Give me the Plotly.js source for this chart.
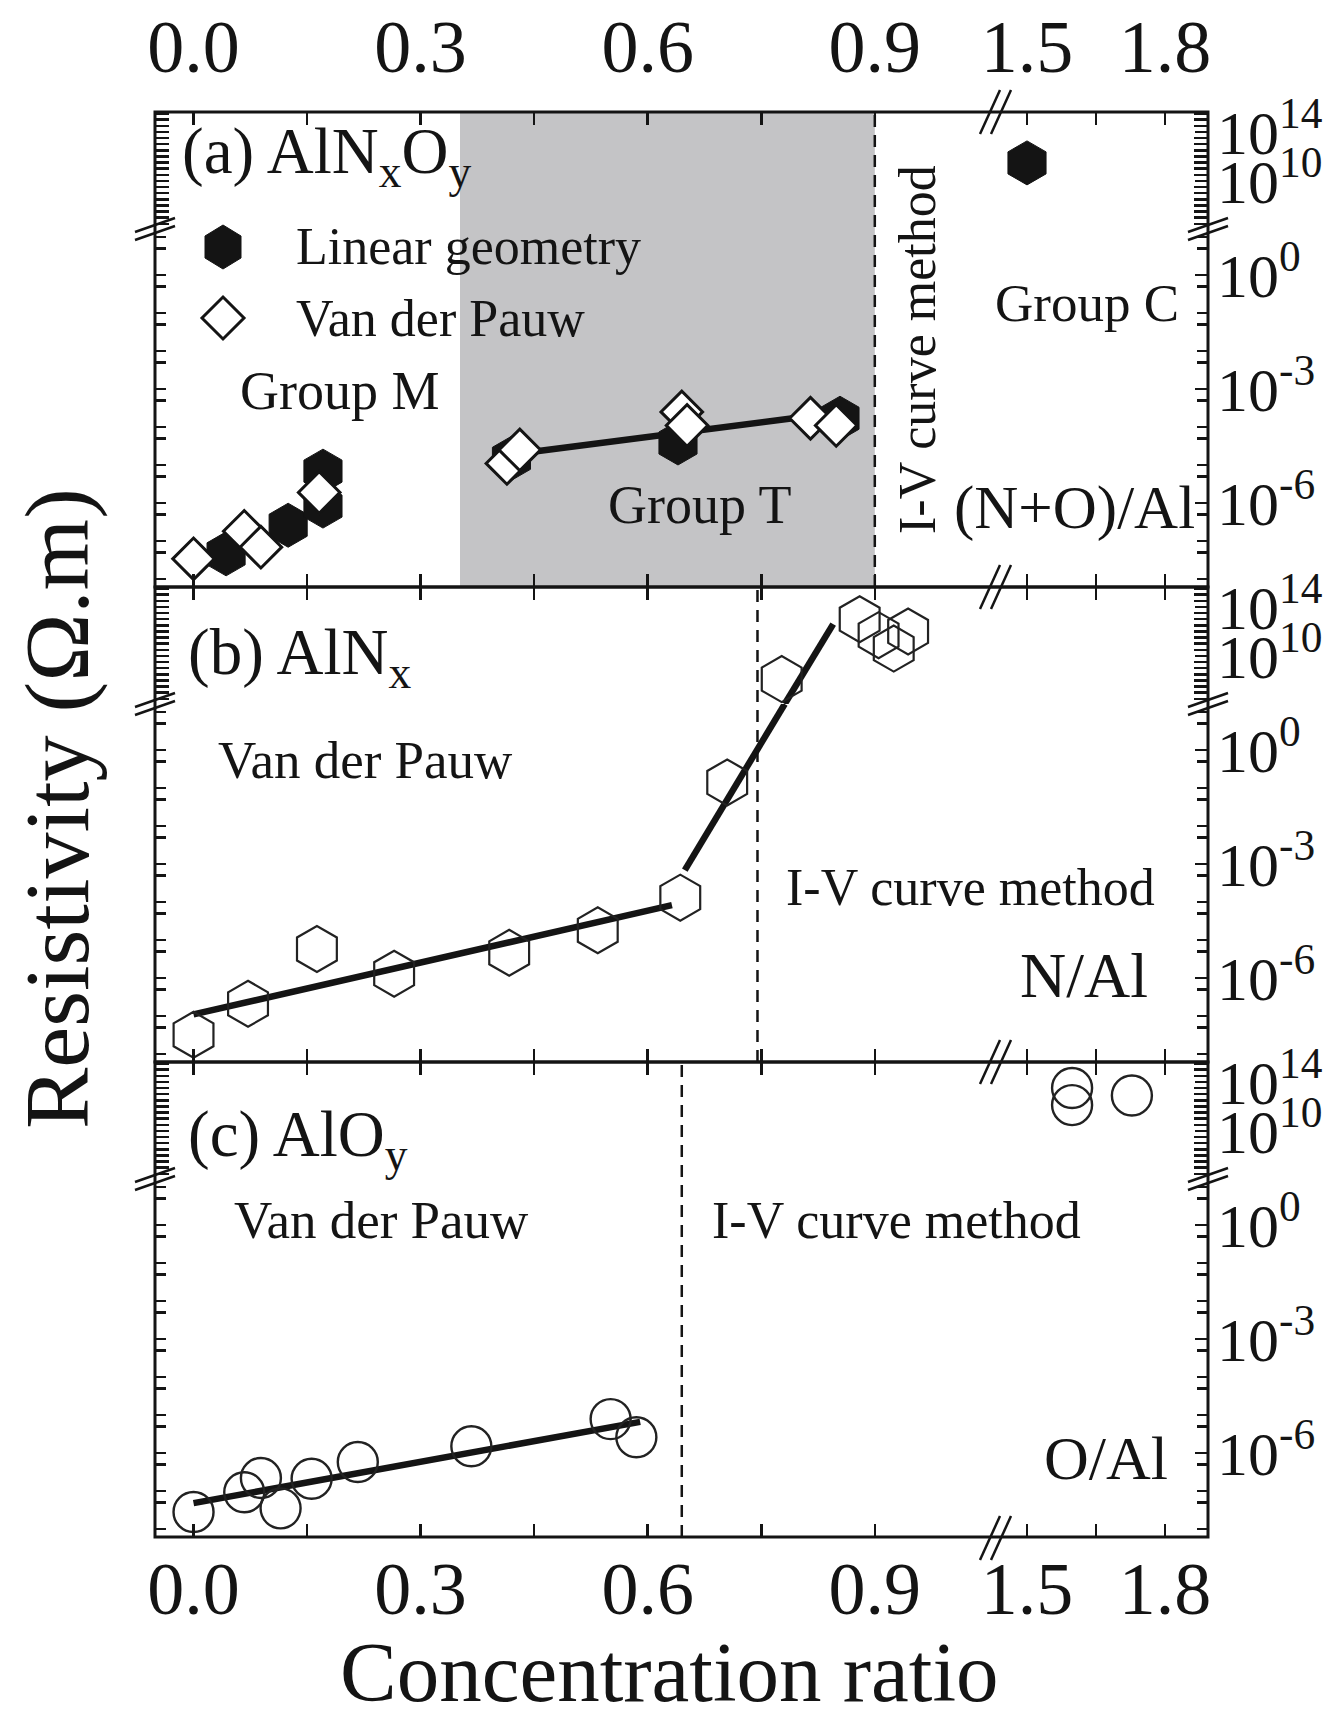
<!DOCTYPE html>
<html>
<head>
<meta charset="utf-8">
<script src="https://cdn.plot.ly/plotly-3.0.1.min.js"></script>
<style>
  html, body { margin: 0; padding: 0; background: #fff; }
  #chart { width: 1340px; height: 1726px; }
</style>
</head>
<body>
<div id="chart"></div>
<script>
// ---------------- data ----------------
// (a) AlNxOy, (N+O)/Al ratio
const aLinearX = [0.043, 0.125, 0.171, 0.171, 0.42, 0.64, 0.854];
const aLinearY = [4.6e-8, 2.6e-7, 6.9e-6, 8.3e-7, 1.5e-5, 3.8e-5, 1.7e-4];
const aPauwX = [0.0, 0.067, 0.089, 0.166, 0.414, 0.431, 0.645, 0.652, 0.815, 0.849];
const aPauwY = [3.4e-8, 1.8e-7, 6.9e-8, 1.9e-6, 1.1e-5, 2.5e-5, 2.5e-4, 1.1e-4, 1.7e-4, 1.1e-4];
const aFitX = [0.43, 0.82];
const aFitY = [2.0e-5, 2.0e-4];
const aHighX = [1.5];
const aHighY = [3.0e11];

// (b) AlNx, N/Al ratio
const bLowX = [0.0, 0.072, 0.163, 0.265, 0.417, 0.534, 0.643, 0.705];
const bLowY = [3.2e-8, 2.1e-7, 5.8e-6, 1.3e-6, 4.6e-6, 1.8e-5, 1.3e-4, 0.14];
const bHighX = [0.777, 0.88, 0.905, 0.925, 0.944];
const bHighY = [1.3e8, 1.0e13, 5.0e11, 4.0e10, 1.0e12];
const bFitX = [0.0, 0.632];
const bFitY = [1.1e-7, 8.3e-5];
const bSteepLowX = [0.649, 0.781];
const bSteepLowY = [6.9e-4, 16.2];
const bSteepHighX = [0.781, 0.845];
const bSteepHighY = [1.2e6, 4.0e12];

// (c) AlOy, O/Al ratio
const cLowX = [0.0, 0.067, 0.089, 0.115, 0.156, 0.217, 0.367, 0.551, 0.585];
const cLowY = [2.8e-8, 9.3e-8, 2.2e-7, 3.5e-8, 2.1e-7, 5.8e-7, 1.5e-6, 7.8e-6, 2.6e-6];
const cHighX = [1.598, 1.598, 1.728];
const cHighY = [3.2e13, 1.3e12, 7.9e12];
const cFitX = [0.0, 0.59];
const cFitY = [4.8e-8, 6.6e-6];

// measurement-method regions
const groupTSpan = [0.352, 0.9];
const methodSplit = [0.9, 0.745, 0.645];   // per panel a, b, c

// tick values / labels
const xTicksLeft = [0, 0.3, 0.6, 0.9];
const xTextLeft = ['0.0', '0.3', '0.6', '0.9'];
const xMinorLeft = [0.15, 0.45, 0.75];
const xTicksRight = [1.5, 1.8];
const xTextRight = ['1.5', '1.8'];
const xMinorRight = [1.65];
const yLowTicks = [1e-6, 1e-3, 1];
const yLowText = ['10<sup>-6</sup>', '10<sup>-3</sup>', '10<sup>0</sup>'];
const yHighTicks = [1e10, 1e14];
const yHighText = ['10<sup>10</sup>', '10<sup>14</sup>'];

// ---------------- geometry ----------------
const W = 1340, H = 1726;
const frameL = 155, frameR = 1208, xBreak = 996;
const panelTop = [112, 587, 1062];
const panelH = 475, breakOff = 117;
const xRangeLeft = [-0.0509, 1.0601];
const xRangeRight = [1.4326, 1.8935];
const yRangeLow = [-8.21, 1.21];
const yRangeHigh = [6.08, 15.63];
const INK = '#141414';
const SERIF = 'Liberation Serif, Times New Roman, serif';

const pxX = v => v / W;
const pxY = v => 1 - v / H;

// unlabelled tick positions on the log scales
const yLowMinor = [];
for (let e = -8; e <= 1; e++) {
  if (e !== -6 && e !== -3 && e !== 0) yLowMinor.push(Math.pow(10, e));
  yLowMinor.push(5 * Math.pow(10, e - 1));
}
const yHighMinor = [];
for (let k = 13; k <= 31; k++) {
  const e = k / 2;
  if (e !== 10 && e !== 14) yHighMinor.push(Math.pow(10, e));
}

const layout = {
  width: W, height: H,
  margin: { l: 0, r: 0, t: 0, b: 0 },
  paper_bgcolor: '#ffffff',
  plot_bgcolor: 'rgba(0,0,0,0)',
  showlegend: false,
  font: { family: SERIF, color: INK },
  shapes: [],
  annotations: []
};

// four sub-panels per panel: lower-left, lower-right, upper-left, upper-right.
// Axes that carry labels get major (labelled) + minor ticks; the others get
// all their tick marks as minor ticks only.
function axId(n) { return n === 1 ? '' : String(n); }
for (let p = 0; p < 3; p++) {
  const top = panelTop[p];
  const lowDom = [pxY(top + panelH), pxY(top + breakOff)];
  const highDom = [pxY(top + breakOff), pxY(top)];
  for (let k = 0; k < 4; k++) {
    const n = 4 * p + k + 1;
    const right = (k % 2) === 1;
    const upper = k >= 2;
    const xlab = (p === 0 && upper) || (p === 2 && !upper);
    const xMaj = right ? xTicksRight : xTicksLeft;
    const xMin = right ? xMinorRight : xMinorLeft;
    layout['xaxis' + axId(n)] = {
      visible: true,
      domain: right ? [pxX(xBreak), pxX(frameR)] : [pxX(frameL), pxX(xBreak)],
      range: right ? xRangeRight : xRangeLeft,
      anchor: 'y' + axId(n),
      side: upper ? 'top' : 'bottom',
      showgrid: false, zeroline: false, showline: false,
      ticks: 'inside', ticklen: 13, tickwidth: 2.5, tickcolor: INK,
      tickmode: 'array',
      tickvals: xlab ? xMaj : [],
      ticktext: xlab ? (right ? xTextRight : xTextLeft) : [],
      minor: { tickmode: 'array', tickvals: xlab ? xMin : xMaj.concat(xMin),
        ticks: 'inside', ticklen: 13, tickwidth: 2.5, tickcolor: INK, showgrid: false },
      showticklabels: xlab,
      ticklabelstandoff: upper ? 24 : 2,
      tickfont: { family: SERIF, size: 74, color: INK },
      fixedrange: true
    };
    const yMaj = upper ? yHighTicks : yLowTicks;
    const yMin = upper ? yHighMinor : yLowMinor;
    layout['yaxis' + axId(n)] = {
      visible: true,
      domain: upper ? highDom : lowDom,
      type: 'log',
      range: upper ? yRangeHigh : yRangeLow,
      anchor: 'x' + axId(n),
      side: right ? 'right' : 'left',
      showgrid: false, zeroline: false, showline: false,
      ticks: 'inside', ticklen: 13, tickwidth: 2.5, tickcolor: INK,
      tickmode: 'array',
      tickvals: right ? yMaj : [],
      ticktext: right ? (upper ? yHighText : yLowText) : [],
      minor: {
        tickmode: 'array',
        tickvals: right ? yMin : yMaj.concat(yMin),
        ticks: 'inside', ticklen: upper ? 14 : 11, tickwidth: 2.5, tickcolor: INK,
        showgrid: false
      },
      showticklabels: right,
      ticklabelstandoff: 8,
      tickfont: { family: SERIF, size: 62, color: INK },
      fixedrange: true
    };
  }
}

// ---------------- traces ----------------
function sub(p, k) { const n = 4 * p + k + 1; return { xaxis: 'x' + axId(n), yaxis: 'y' + axId(n) }; }
function fitLine(x, y, p, k) {
  return Object.assign({ x, y, type: 'scatter', mode: 'lines', hoverinfo: 'skip',
    line: { color: INK, width: 6.5 } }, sub(p, k));
}
const solidHex = { symbol: 'hexagon', size: 44, color: INK, line: { color: INK, width: 1 } };
const openDiamond = { symbol: 'diamond', size: 32, color: '#ffffff', line: { color: INK, width: 3 } };
const openHex = { symbol: 'hexagon-open', size: 46, color: '#222', line: { width: 2.2 } };
const openCircle = { symbol: 'circle-open', size: 40, color: '#222', line: { width: 2.4 } };

const traces = [];
// every sub-panel carries its panel's series (drawn with mode 'none') so each axis pair is laid out
const panelSeries = [[aPauwX, aPauwY], [bLowX, bLowY], [cLowX, cLowY]];
for (let p = 0; p < 3; p++) {
  for (let k = 0; k < 4; k++) {
    traces.push(Object.assign({ x: panelSeries[p][0], y: panelSeries[p][1], type: 'scatter',
      mode: 'none', hoverinfo: 'skip' }, sub(p, k)));
  }
}

traces.push(
  fitLine(aFitX, aFitY, 0, 0),
  Object.assign({ x: aLinearX, y: aLinearY, type: 'scatter', mode: 'markers', name: 'Linear geometry',
    marker: solidHex, cliponaxis: false }, sub(0, 0)),
  Object.assign({ x: aPauwX, y: aPauwY, type: 'scatter', mode: 'markers', name: 'Van der Pauw',
    marker: openDiamond, cliponaxis: false }, sub(0, 0)),
  Object.assign({ x: aHighX, y: aHighY, type: 'scatter', mode: 'markers', name: 'Linear geometry',
    marker: solidHex, cliponaxis: false }, sub(0, 3)),

  fitLine(bFitX, bFitY, 1, 0),
  fitLine(bSteepLowX, bSteepLowY, 1, 0),
  fitLine(bSteepHighX, bSteepHighY, 1, 2),
  Object.assign({ x: bLowX, y: bLowY, type: 'scatter', mode: 'markers', name: 'AlNx',
    marker: openHex, cliponaxis: false }, sub(1, 0)),
  Object.assign({ x: bHighX, y: bHighY, type: 'scatter', mode: 'markers', name: 'AlNx',
    marker: openHex, cliponaxis: false }, sub(1, 2)),

  fitLine(cFitX, cFitY, 2, 0),
  Object.assign({ x: cLowX, y: cLowY, type: 'scatter', mode: 'markers', name: 'AlOy',
    marker: openCircle, cliponaxis: false }, sub(2, 0)),
  Object.assign({ x: cHighX, y: cHighY, type: 'scatter', mode: 'markers', name: 'AlOy',
    marker: openCircle, cliponaxis: false }, sub(2, 3))
);

// ---------------- shapes ----------------
const shapes = layout.shapes;
// Group T shading in panel (a)
shapes.push({ type: 'rect', layer: 'below', xref: 'x', yref: 'paper',
  x0: groupTSpan[0], x1: groupTSpan[1], y0: pxY(panelTop[0] + panelH), y1: pxY(panelTop[0]),
  fillcolor: '#c4c4c6', line: { width: 0 } });
// method boundaries (dashed)
for (let p = 0; p < 3; p++) {
  shapes.push({ type: 'line', layer: 'above', xref: 'x' + axId(4 * p + 1), yref: 'paper',
    x0: methodSplit[p], x1: methodSplit[p], y0: pxY(panelTop[p] + panelH), y1: pxY(panelTop[p]),
    line: { color: INK, width: 2.5, dash: '12px,8px' } });
}
// panel frames
for (let p = 0; p < 3; p++) {
  shapes.push({ type: 'rect', layer: 'above', xref: 'paper', yref: 'paper',
    x0: pxX(frameL), x1: pxX(frameR), y0: pxY(panelTop[p] + panelH), y1: pxY(panelTop[p]),
    line: { color: INK, width: 3 }, fillcolor: 'rgba(0,0,0,0)' });
}
// axis break marks
function slash(x0, y0, x1, y1) {
  shapes.push({ type: 'line', layer: 'above', xref: 'paper', yref: 'paper',
    x0: pxX(x0), y0: pxY(y0), x1: pxX(x1), y1: pxY(y1), line: { color: INK, width: 2.5 } });
}
[112, 587, 1062, 1538].forEach(cy => {
  [-6, 5].forEach(dx => slash(xBreak + dx - 10, cy + 22, xBreak + dx + 10, cy - 22));
});
for (let p = 0; p < 3; p++) {
  const cy = panelTop[p] + breakOff;
  [frameL, frameR].forEach(cx => {
    [-4, 4].forEach(dy => slash(cx - 20, cy + 7 + dy, cx + 20, cy - 7 + dy));
  });
}
// legend keys in panel (a)
shapes.push({ type: 'path', layer: 'above', xref: 'paper', yref: 'paper',
  xsizemode: 'pixel', ysizemode: 'pixel', xanchor: pxX(223), yanchor: pxY(247),
  path: 'M 18 -11 L 18 11 L 0 22 L -18 11 L -18 -11 L 0 -22 Z',
  fillcolor: INK, line: { color: INK, width: 1 } });
shapes.push({ type: 'path', layer: 'above', xref: 'paper', yref: 'paper',
  xsizemode: 'pixel', ysizemode: 'pixel', xanchor: pxX(223), yanchor: pxY(318),
  path: 'M 0 21 L 21 0 L 0 -21 L -21 0 Z',
  fillcolor: '#ffffff', line: { color: INK, width: 3 } });

// ---------------- text ----------------
function note(text, x, y, size, extra) {
  return Object.assign({ text, x: pxX(x), y: pxY(y), xref: 'paper', yref: 'paper', showarrow: false,
    xanchor: 'center', yanchor: 'middle', font: { family: SERIF, size, color: INK } }, extra || {});
}
const A = layout.annotations;
A.push(note('(a) AlN<sub>x</sub>O<sub>y</sub>', 180, 156, 65, { xanchor: 'left' }));
A.push(note('(b) AlN<sub>x</sub>', 186, 657, 65, { xanchor: 'left' }));
A.push(note('(c) AlO<sub>y</sub>', 186, 1139, 65, { xanchor: 'left' }));
A.push(note('Linear geometry', 294, 247, 52, { xanchor: 'left' }));
A.push(note('Van der Pauw', 294, 318, 52, { xanchor: 'left' }));
A.push(note('Group M', 340, 391, 54));
A.push(note('Group T', 700, 505, 54));
A.push(note('Group C', 1087, 303, 53));
A.push(note('(N+O)/Al', 1197, 508, 61, { xanchor: 'right' }));
A.push(note('I-V curve method', 917, 350, 52, { textangle: -90 }));
A.push(note('Van der Pauw', 365, 760, 53));
A.push(note('I-V curve method', 970, 887, 52));
A.push(note('N/Al', 1150, 975, 64, { xanchor: 'right' }));
A.push(note('Van der Pauw', 381, 1220, 53));
A.push(note('I-V curve method', 896, 1220, 52));
A.push(note('O/Al', 1170, 1458, 62, { xanchor: 'right' }));
A.push(note('Concentration ratio', 669, 1672, 85));
A.push(note('Resistivity (\u03A9.m)', 57, 809, 92, { textangle: -90 }));

Plotly.newPlot('chart', traces, layout, { staticPlot: true, displayModeBar: false });
</script>
</body>
</html>
